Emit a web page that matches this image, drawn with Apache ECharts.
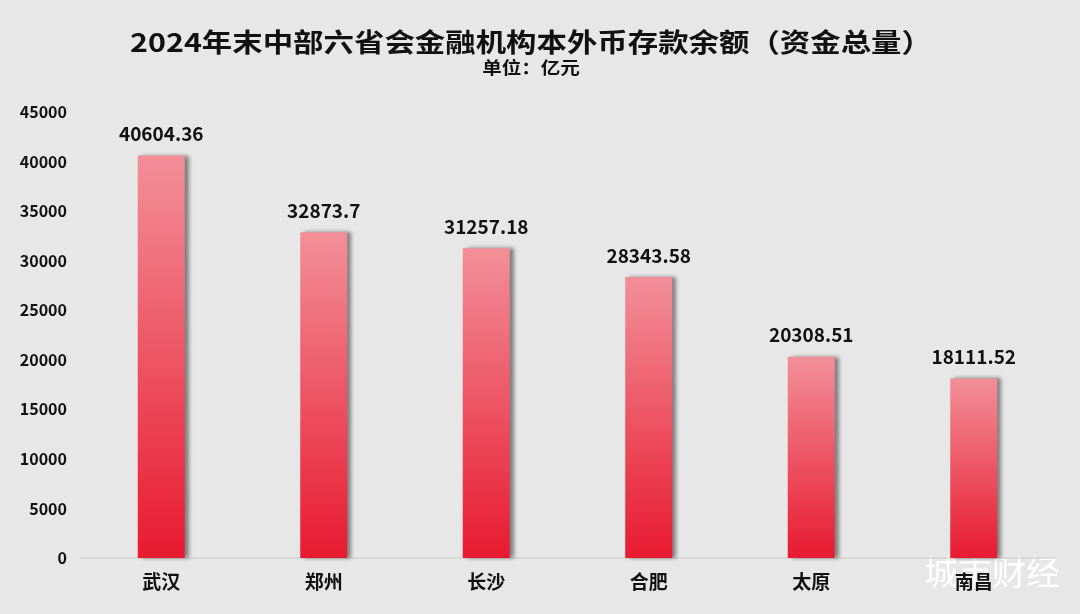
<!DOCTYPE html>
<html>
<head>
<meta charset="utf-8">
<script src="https://cdn.jsdelivr.net/npm/echarts@6/dist/echarts.min.js"></script>
<style>
  html, body { margin: 0; padding: 0; background: #e7e7e7; }
  #chart { width: 1080px; height: 614px; }
</style>
</head>
<body>
<div id="chart"></div>
<script>
const cities = ["武汉", "郑州", "长沙", "合肥", "太原", "南昌"];
const deposits = [40604.36, 32873.7, 31257.18, 28343.58, 20308.51, 18111.52];
const yTicks = [0, 5000, 10000, 15000, 20000, 25000, 30000, 35000, 40000, 45000];

const chart = echarts.init(document.getElementById("chart"));
const font = "'Noto Sans CJK SC', 'Noto Sans', sans-serif";

chart.setOption({
  backgroundColor: "#e7e7e7",
  grid: { top: 112, left: 80, right: 25, bottom: 56 },
  xAxis: {
    type: "category",
    data: cities,
    axisLine: { lineStyle: { color: "#d4d4d4", width: 1.5 } },
    axisTick: { show: false },
    axisLabel: { color: "#111", fontSize: 19, fontWeight: "bold", fontFamily: font, margin: 14 },
  },
  yAxis: {
    type: "value",
    min: yTicks[0],
    max: yTicks[yTicks.length - 1],
    interval: yTicks[1] - yTicks[0],
    splitLine: { show: false },
    axisLine: { show: false },
    axisTick: { show: false },
    axisLabel: {
      color: "#111",
      fontSize: 16,
      fontWeight: "bold",
      fontFamily: font,
      margin: 13,
      formatter: (v) => String(v),
    },
  },
  series: [
    {
      type: "bar",
      data: deposits,
      barWidth: 47,
      itemStyle: {
        color: {
          type: "linear",
          x: 0, y: 0, x2: 0, y2: 1,
          colorStops: [
            { offset: 0, color: "#f28f98" },
            { offset: 1, color: "#e81a30" },
          ],
        },
        shadowColor: "rgba(0,0,0,0.45)",
        shadowBlur: 4,
        shadowOffsetX: 4,
        shadowOffsetY: 0,
      },
      label: {
        show: true,
        position: "top",
        distance: 12,
        color: "#111",
        fontSize: 19,
        fontWeight: "bold",
        fontFamily: font,
      },
    },
  ],
  graphic: [
    {
      type: "text",
      x: 531,
      y: 42,
      scaleX: 1.17,
      style: {
        text: "2024年末中部六省会金融机构本外币存款余额（资金总量）",
        fill: "#111",
        font: "bold 26px " + font,
        textAlign: "center",
        textVerticalAlign: "middle",
      },
    },
    {
      type: "text",
      x: 531,
      y: 68,
      scaleX: 1.15,
      style: {
        text: "单位：亿元",
        fill: "#111",
        font: "bold 17px " + font,
        textAlign: "center",
        textVerticalAlign: "middle",
      },
    },
    {
      type: "text",
      x: 992,
      y: 572,
      style: {
        text: "城市财经",
        fill: "#ffffff",
        font: "34px " + font,
        textAlign: "center",
        textVerticalAlign: "middle",
        shadowColor: "rgba(0,0,0,0.4)",
        shadowBlur: 2,
        shadowOffsetX: 2,
        shadowOffsetY: 2,
      },
    },
  ],
});
</script>
</body>
</html>
